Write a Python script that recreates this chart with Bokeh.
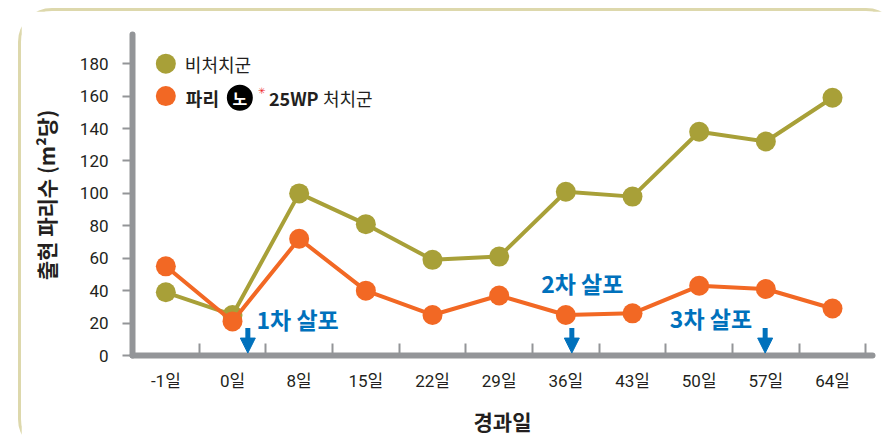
from bokeh.plotting import figure
from bokeh.models import (Range1d, FixedTicker, Label, Arrow, NormalHead, ColumnDataSource,
                          GlobalInlineStyleSheet)
from bokeh.core.properties import value
from bokeh.embed import file_html
from bokeh.resources import INLINE

# ---- data ----
categories = ["-1일", "0일", "8일", "15일", "22일", "29일", "36일", "43일", "50일", "57일", "64일"]
untreated = [39, 25, 100, 81, 59, 61, 101, 98, 138, 132, 159]
treated = [55, 21, 72, 40, 25, 37, 25, 26, 43, 41, 29]
y_ticks = [0, 20, 40, 60, 80, 100, 120, 140, 160, 180]
series_names = ["비처치군", "파리노 25WP 처치군"]
spray_labels = ["1차 살포", "2차 살포", "3차 살포"]
spray_days = ["0일", "36일", "57일"]

# ---- styles / layout ----
OLIVE = "#A8A038"
ORANGE = "#F26824"
BLUE = "#0071BC"
AXIS = "#939598"
TEXT = "#231F20"
CJK = "'Noto Sans CJK KR'"
TICKFONT = "Roboto, 'Noto Sans CJK KR'"

xs = list(range(len(categories)))

p = figure(width=882, height=445, x_range=Range1d(-0.5, 10.6), y_range=Range1d(0, 198),
           output_backend="svg", toolbar_location=None,
           min_border_left=111, min_border_right=31, min_border_top=23, min_border_bottom=101)
p.styles = {"border": "3px solid #DDD8AC", "border-radius": "34px",
            "margin-left": "18px", "margin-top": "8px"}
p.stylesheets = [GlobalInlineStyleSheet(css="html, body { overflow: hidden; margin: 0; }")]
p.outline_line_color = None
p.grid.visible = False
p.background_fill_color = "white"

src_u = ColumnDataSource(dict(x=xs, y=untreated))
src_t = ColumnDataSource(dict(x=xs, y=treated))
p.line("x", "y", source=src_u, line_color=OLIVE, line_width=4)
p.scatter("x", "y", source=src_u, size=20, fill_color=OLIVE, line_color=None)
p.line("x", "y", source=src_t, line_color=ORANGE, line_width=4)
p.scatter("x", "y", source=src_t, size=20, fill_color=ORANGE, line_color=None)

# axes
xa = p.xaxis[0]
xa.ticker = FixedTicker(ticks=xs, minor_ticks=[i + 0.5 for i in xs])
xa.major_label_overrides = {i: c for i, c in enumerate(categories)}
xa.major_tick_in = 0
xa.major_tick_out = 0
xa.minor_tick_in = 12
xa.minor_tick_out = 0
xa.minor_tick_line_color = AXIS
xa.minor_tick_line_width = 2
xa.axis_line_color = AXIS
xa.axis_line_width = 6
xa.axis_line_cap = "round"
xa.major_label_text_font = TICKFONT
xa.major_label_text_font_size = "17px"
xa.major_label_text_color = TEXT
xa.major_label_standoff = 15
xa.axis_label = "경과일"
xa.axis_label_text_font = CJK
xa.axis_label_text_font_style = "bold"
xa.axis_label_text_font_size = "21px"
xa.axis_label_text_color = TEXT
xa.axis_label_standoff = 12

ya = p.yaxis[0]
ya.ticker = FixedTicker(ticks=y_ticks)
ya.major_tick_in = 0
ya.major_tick_out = 10
ya.major_tick_line_color = AXIS
ya.major_tick_line_width = 2
ya.minor_tick_line_color = None
ya.axis_line_color = AXIS
ya.axis_line_width = 6
ya.axis_line_cap = "round"
ya.major_label_text_font = TICKFONT
ya.major_label_text_font_size = "17px"
ya.major_label_text_color = TEXT
ya.major_label_standoff = 14
ya.axis_label = "출현 파리수 (m²당)"
ya.axis_label_text_font = CJK
ya.axis_label_text_font_style = "bold"
ya.axis_label_text_font_size = "21px"
ya.axis_label_text_color = TEXT
ya.axis_label_standoff = 16

# spray annotations
arrow_offsets = [0.23, 0.09, -0.01]
text_offsets = [0.36, -0.37, -1.44]
text_y = [22.8, 45, 23.4]
for lab, day, ao, to, ty in zip(spray_labels, spray_days, arrow_offsets, text_offsets, text_y):
    i = categories.index(day)
    p.add_layout(Arrow(x_start=i + ao, y_start=17, x_end=i + ao, y_end=1.5,
                       line_color=BLUE, line_width=5,
                       end=NormalHead(size=15, fill_color=BLUE, line_color=BLUE, line_width=1)))
    p.add_layout(Label(x=i + to, y=ty, text=lab, text_font=CJK, text_font_style="bold",
                       text_font_size="23px", text_color=BLUE, text_baseline="middle"))

# legend (manual)
legend_y = [180, 159]
p.scatter([0, 0], [180, 160], size=20, fill_color=[OLIVE, ORANGE], line_color=None)
p.scatter([1.11], [legend_y[1]], size=26, fill_color="black", line_color=None)
def dl(x, y, text, **kw):
    kw.setdefault("text_color", TEXT)
    kw.setdefault("text_font_size", "18px")
    p.add_layout(Label(x=x, y=y, text=text, text_baseline="middle", text_font=CJK, **kw))
dl(0.285, legend_y[0], series_names[0])
dl(0.30, legend_y[1], "파리", text_font_style="bold")
dl(1.11, legend_y[1], "노", text_font_style="bold", text_align="center", text_color="white",
   text_font_size="16px")
dl(1.38, 163.5, "✳", text_color="#ED1C24", text_font_size="9px")
dl(1.546, legend_y[1], "25WP", text_font_style="bold")
dl(2.356, legend_y[1], "처치군")

open("out.html", "w").write(file_html(p, INLINE))
